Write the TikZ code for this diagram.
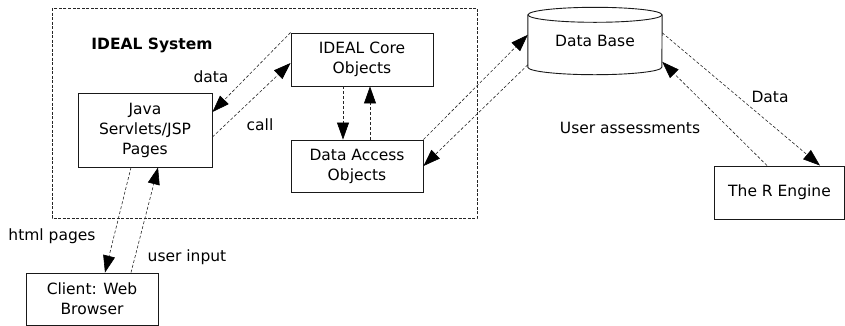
\documentclass[tikz,border=0pt]{standalone}
\usepackage{fontspec}
\setmainfont{DejaVu Sans}
\usetikzlibrary{arrows.meta}
\begin{document}
\begin{tikzpicture}[x=1pt,y=-1pt,
  every node/.style={font=\fontsize{15.5}{20}\selectfont, text=black},
  box/.style={draw=black!90, line width=0.9pt, fill=white, align=center, inner sep=0pt},
  conn/.style={draw=black!85, line width=0.6pt, dash pattern=on 3pt off 2pt,
    -{Triangle[length=17pt,width=12pt,color=black]}},
  lbl/.style={inner sep=0pt}
]
\useasboundingbox (0,0) rectangle (845,325);
\clip (0,0) rectangle (845,325);
% outer dashed system box
\draw[black!85, line width=0.7pt, dash pattern=on 3pt off 1.5pt] (52,8) rectangle (477,218);
\node[lbl, font=\fontsize{15.5}{20}\selectfont\bfseries] (sys) at (152,45) {IDEAL System};

\node[box, minimum width=134pt, minimum height=74pt] (java) at (145,130) {Java\\Servlets/JSP\\Pages};
\node[box, minimum width=142pt, minimum height=53pt] (core) at (362,59.5) {IDEAL Core\\Objects};
\node[box, minimum width=132pt, minimum height=52pt] (dao) at (357,166) {Data Access\\Objects};
\node[box, minimum width=130pt, minimum height=53pt] (r) at (779.5,192.5) {The R Engine};
\node[box, minimum width=132pt, minimum height=52pt] (client) at (92,299) {Client: Web\\Browser};

% database cylinder
\node[inner sep=0pt, minimum width=134pt, minimum height=52pt] (db) at (595,41) {Data Base};
\draw[black!90, line width=0.9pt, fill=white]
  (db.north west) -- (db.south west) arc[start angle=180, end angle=360, x radius=67pt, y radius=7.5pt]
  -- (db.north east);
\draw[black!90, line width=0.9pt] (db.north) ellipse[x radius=67pt, y radius=7.5pt];
\node[inner sep=0pt] at (db.center) {Data Base};

% connectors
\draw[conn] (core.north west) -- ([yshift=18pt]java.east);
\draw[conn] ([yshift=-7pt]java.east) -- ([yshift=-3.5pt]core.west);
\draw[conn] ([xshift=-19pt]core.south) -- ([xshift=-19pt]core.south |- dao.north);
\draw[conn] ([xshift=8pt]core.south |- dao.north) -- ([xshift=8pt]core.south);
\draw[conn] (dao.north east) -- ([yshift=-20pt]db.north west);
\draw[conn] ([yshift=-50pt]db.north west) -- (dao.east);
\draw[conn] ([yshift=-18pt]db.north east) -- ([xshift=40.5pt]r.north);
\draw[conn] ([xshift=-12.5pt]r.north) -- ([yshift=-47pt]db.north east);
\draw[conn] ([xshift=-14pt]java.south) -- ([xshift=13pt]client.north);
\draw[conn] ([xshift=39pt]client.north) -- ([xshift=13pt]java.south);

% labels
\node[lbl] (ldata) at (211,77) {data};
\node[lbl] (lcall) at (260,125) {call};
\node[lbl] (lData) at (770,97) {Data};
\node[lbl] (lua) at (630,128) {User assessments};
\node[lbl] (lhtml) at (52,236) {html pages};
\node[lbl] (lui) at (187,257) {user input};
\end{tikzpicture}
\end{document}
